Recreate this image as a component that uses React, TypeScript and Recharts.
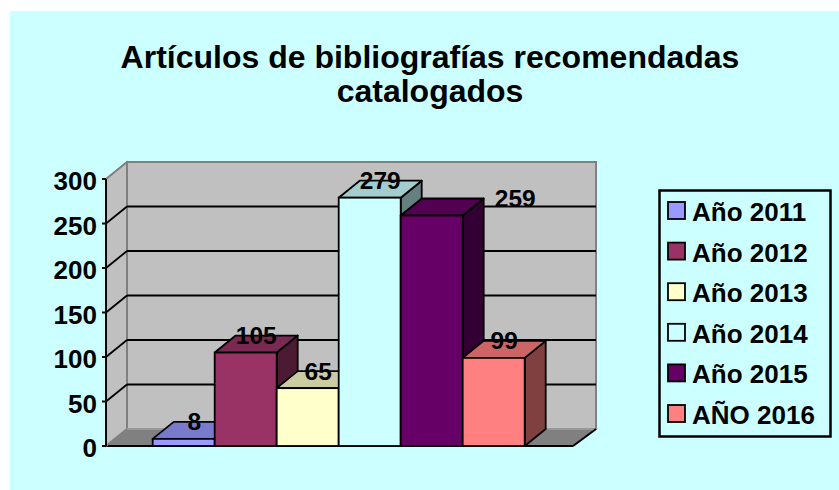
import React from 'react';
import { BarChart, Bar, XAxis, YAxis, CartesianGrid, ReferenceArea, LabelList, Legend } from 'recharts';

// ---- data ----
const categories = ['Artículos catalogados'];
const seriesNames = ['Año 2011', 'Año 2012', 'Año 2013', 'Año 2014', 'Año 2015', 'AÑO 2016'];
const seriesValues = [8, 105, 65, 279, 259, 99];
const yTicks = [0, 50, 100, 150, 200, 250, 300];
const titleLines = ['Artículos de bibliografías recomendadas', 'catalogados'];

// ---- style ----
const seriesColors = ['#9999FF', '#993366', '#FFFFCC', '#CCFFFF', '#660066', '#FF8080'];
const labelShiftX = [0, 0, 0, 0, 73, 0];
const FONT = '"Liberation Sans", Arial, Helvetica, sans-serif';
const BG = '#CCFFFF';
const DX = 21;
const DY = -17;

const data = categories.map((c) => {
  const row: any = { name: c };
  seriesValues.forEach((v, i) => {
    row['s' + i] = v;
  });
  return row;
});

function shade(hex: string, f: number) {
  const n = parseInt(hex.slice(1), 16);
  const r = Math.round(((n >> 16) & 255) * f);
  const g = Math.round(((n >> 8) & 255) * f);
  const b = Math.round((n & 255) * f);
  return `rgb(${r},${g},${b})`;
}

const make3DBar = (color: string) => (props: any) => {
  const { x, y, width, height } = props;
  if (x == null || y == null) return null;
  const x2 = x + width;
  const yb = y + height;
  const top = shade(color, 0.8);
  const side = shade(color, 0.5);
  return (
    <g>
      <polygon
        points={`${x2},${y} ${x2 + DX},${y + DY} ${x2 + DX},${yb + DY} ${x2},${yb}`}
        fill={side}
        stroke="#000"
        strokeWidth={1.8}
        strokeLinejoin="round"
      />
      <polygon
        points={`${x},${y} ${x + DX},${y + DY} ${x2 + DX},${y + DY} ${x2},${y}`}
        fill={top}
        stroke="#000"
        strokeWidth={1.8}
        strokeLinejoin="round"
      />
      <rect x={x} y={y} width={width} height={height} fill={color} stroke="#000" strokeWidth={1.8} />
    </g>
  );
};

const makeLabel = (i: number) => (props: any) => {
  const { x, y, width, value } = props;
  if (x == null) return null;
  return (
    <text
      x={x + width / 2 + DX / 2 + labelShiftX[i]}
      y={y + DY}
      textAnchor="middle"
      dominantBaseline="central"
      fontFamily={FONT}
      fontWeight="bold"
      fontSize={24.5}
      fill="#000"
    >
      {value}
    </text>
  );
};

const WallShape = (props: any) => {
  const { x, y, width, height } = props;
  if (x == null) return null;
  const yb = y + height;
  const xr = x + width;
  return (
    <g>
      <polygon
        points={`${x},${yb} ${x},${y} ${x + DX},${y + DY} ${x + DX},${yb + DY}`}
        fill="#C0C0C0"
        stroke="#808080"
        strokeWidth={1.5}
      />
      <rect x={x + DX} y={y + DY} width={width + 2} height={height} fill="#C0C0C0" stroke="#808080" strokeWidth={2} />
      <polygon
        points={`${x},${yb} ${x + DX},${yb + DY} ${xr + DX + 2},${yb + DY} ${xr},${yb}`}
        fill="#808080"
        stroke="#A0A0A0"
        strokeWidth={1.5}
      />
      <line x1={x} y1={yb} x2={xr} y2={yb} stroke="#000" strokeWidth={2} />
      <line x1={xr} y1={yb} x2={xr + DX + 2} y2={yb + DY} stroke="#000" strokeWidth={2} />
    </g>
  );
};

const gridLine = (p: any) => {
  const { x1, x2, y1 } = p;
  const top = p.y;
  const bottom = typeof p.y === 'number' && typeof p.height === 'number' ? p.y + p.height : NaN;
  const isEdge = Math.abs(y1 - top) < 1 || Math.abs(y1 - bottom) < 1;
  const stroke = isEdge ? '#808080' : '#000';
  return (
    <g key={'g' + p.index + '-' + y1}>
      <line x1={x1} y1={y1} x2={x1 + DX} y2={y1 + DY} stroke={stroke} strokeWidth={1.8} />
      {!isEdge && <line x1={x1 + DX} y1={y1 + DY} x2={x2 + DX + 2} y2={y1 + DY} stroke={stroke} strokeWidth={2} />}
    </g>
  );
};

const YTick = (props: any) => {
  const { x, y, payload } = props;
  return (
    <text
      x={x}
      y={y + 2}
      textAnchor="end"
      dominantBaseline="central"
      fontFamily={FONT}
      fontWeight="bold"
      fontSize={26}
      fill="#000"
    >
      {payload.value}
    </text>
  );
};

const LegendContent = (props: any) => {
  const raw = props.payload && props.payload.length ? props.payload : seriesNames.map((n, i) => ({ value: n, color: seriesColors[i] }));
  const payload = [...raw].sort((a: any, b: any) => seriesNames.indexOf(a.value) - seriesNames.indexOf(b.value));
  return (
    <svg width={174} height={249} style={{ display: 'block' }}>
      <rect x={1.5} y={1.5} width={171} height={246} fill={BG} stroke="#000" strokeWidth={2.5} />
      {payload.map((item: any, i: number) => {
        const idx = seriesNames.indexOf(item.value);
        const col = idx >= 0 ? seriesColors[idx] : item.color;
        const base = 32 + i * 40.6;
        return (
          <g key={item.value}>
            <rect x={10} y={base - 19} width={17} height={17} fill={col} stroke="#000" strokeWidth={1.8} />
            <text x={34} y={base} fontFamily={FONT} fontWeight="bold" fontSize={26} fill="#000">
              {item.value}
            </text>
          </g>
        );
      })}
    </svg>
  );
};

export default function App() {
  return (
    <div style={{ position: 'absolute', left: 0, top: 0, width: 839, height: 490, background: '#fff', overflow: 'hidden' }}>
      <div style={{ position: 'absolute', left: 10, top: 11, width: 829, height: 479, background: BG }} />
      <svg width={839} height={130} style={{ position: 'absolute', left: 0, top: 0 }}>
        {titleLines.map((t, i) => (
          <text
            key={t}
            x={430}
            y={68 + i * 34}
            textAnchor="middle"
            fontFamily={FONT}
            fontWeight="bold"
            fontSize={32}
            fill="#000"
          >
            {t}
          </text>
        ))}
      </svg>
      <div style={{ position: 'absolute', left: 0, top: 0 }}>
        <BarChart
          width={839}
          height={490}
          data={data}
          margin={{ top: 179, right: 266, bottom: 44, left: 0 }}
          barCategoryGap="10%"
          barGap={0}
        >
          <ReferenceArea y1={0} y2={300} shape={WallShape} ifOverflow="visible" zIndex={-200} isFront={false} />
          <CartesianGrid horizontal={gridLine} vertical={false} stroke="#000" />
          <XAxis dataKey="name" hide />
          <YAxis
            type="number"
            domain={[0, 300]}
            ticks={yTicks}
            interval={0}
            width={106}
            tickSize={4}
            tickMargin={5}
            axisLine={{ stroke: '#000', strokeWidth: 2 }}
            tickLine={{ stroke: '#000', strokeWidth: 2 }}
            tick={YTick}
          />
          <Legend
            layout="vertical"
            align="center"
            verticalAlign="middle"
            wrapperStyle={{ left: 658, top: 189, width: 174, height: 249 }}
            content={LegendContent}
          />
          {seriesNames.map((n, i) => (
            <Bar
              key={n}
              dataKey={'s' + i}
              name={n}
              fill={seriesColors[i]}
              isAnimationActive={false}
              shape={make3DBar(seriesColors[i])}
            >
              <LabelList dataKey={'s' + i} content={makeLabel(i)} />
            </Bar>
          ))}
        </BarChart>
      </div>
    </div>
  );
}
